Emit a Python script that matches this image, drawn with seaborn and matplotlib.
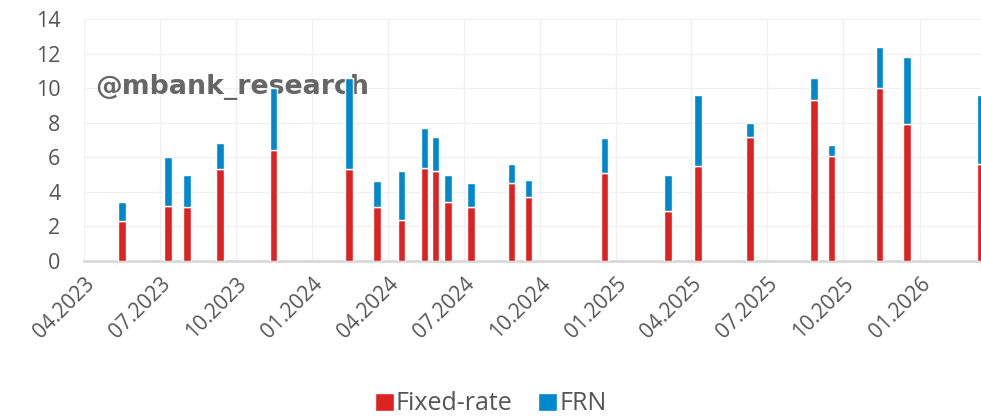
import matplotlib
matplotlib.use("Agg")
import matplotlib.pyplot as plt
import matplotlib.dates as mdates
import seaborn as sns
import pandas as pd
import numpy as np

# issuance dates and amounts
dates = ["2023-05-17", "2023-07-11", "2023-08-03", "2023-09-12", "2023-11-15",
         "2024-02-14", "2024-03-19", "2024-04-17", "2024-05-15", "2024-05-28",
         "2024-06-12", "2024-07-10", "2024-08-28", "2024-09-17", "2024-12-18",
         "2025-03-04", "2025-04-09", "2025-06-11", "2025-08-27", "2025-09-17",
         "2025-11-14", "2025-12-17", "2026-03-16"]
fixed_rate = [2.3, 3.2, 3.1, 5.3, 6.4, 5.3, 3.1, 2.4, 5.4, 5.2, 3.4, 3.1,
              4.5, 3.7, 5.1, 2.9, 5.5, 7.2, 9.3, 6.1, 10.0, 7.9, 5.6]
frn = [1.1, 2.8, 1.9, 1.5, 3.6, 5.3, 1.5, 2.8, 2.3, 2.0, 1.6, 1.4,
       1.1, 1.0, 2.0, 2.1, 4.1, 0.8, 1.3, 0.6, 2.4, 3.9, 4.0]
tick_dates = ["2023-04-01", "2023-07-01", "2023-10-01", "2024-01-01", "2024-04-01",
              "2024-07-01", "2024-10-01", "2025-01-01", "2025-04-01", "2025-07-01",
              "2025-10-01", "2026-01-01"]

RED = "#dd2222"
BLUE = "#0088cc"
TXT = "#555555"

sns.set_style("whitegrid", {"grid.color": "#f0f0f0", "axes.edgecolor": "#d9d9d9"})
plt.rcParams["font.family"] = ["Open Sans", "DejaVu Sans"]

df = pd.DataFrame({"date": pd.to_datetime(dates), "Fixed-rate": fixed_rate, "FRN": frn})

fig = plt.figure(figsize=(9.81, 4.16), dpi=100)
ax = fig.add_axes([0.0856, 0.3726, 0.9144, 0.5817])

w = 9
ax.bar(df["date"], df["Fixed-rate"], width=w, color=RED, label="Fixed-rate", zorder=3)
ax.bar(df["date"], df["FRN"], width=w, bottom=df["Fixed-rate"], color=BLUE, label="FRN", zorder=3)

ax.set_xlim(pd.Timestamp("2023-04-01"), pd.Timestamp("2026-03-16"))
ax.set_ylim(0, 14)
ax.set_yticks(np.arange(0, 15, 2))
ax.set_xticks(pd.to_datetime(tick_dates))
ax.xaxis.set_major_formatter(mdates.DateFormatter("%m.%Y"))
for lab in ax.get_xticklabels():
    lab.set_rotation(45)
    lab.set_ha("right")
    lab.set_rotation_mode("anchor")
ax.tick_params(axis="x", colors=TXT, labelsize=15, length=7, color="#d9d9d9", width=1.5, pad=2)
ax.tick_params(axis="y", colors=TXT, labelsize=15.5, length=0, pad=17)
ax.grid(True, color="#f0f0f0", linewidth=1)
ax.set_axisbelow(True)

sns.despine(ax=ax, left=True, right=True, top=True)
ax.spines["bottom"].set_color("#d9d9d9")
ax.spines["bottom"].set_linewidth(2)

ax.text(0.013, 0.72, "@mbank_research", transform=ax.transAxes, fontsize=19.3,
        fontweight="bold", color="#666666", family="DejaVu Sans", va="center", zorder=2)

fig.legend(loc="lower center", bbox_to_anchor=(0.5, -0.055), ncol=2, frameon=False,
           fontsize=18, handlelength=0.75, handleheight=0.75, handletextpad=0.1,
           columnspacing=1.0, labelcolor=TXT)

fig.savefig("out.png", dpi=100)
